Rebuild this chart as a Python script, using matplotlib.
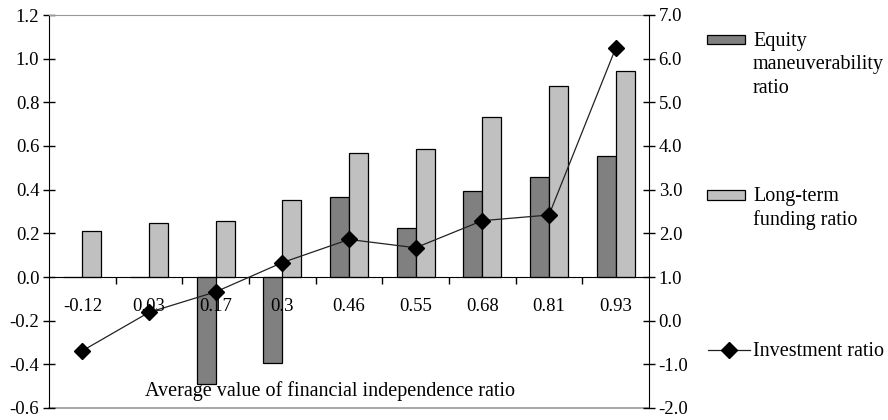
import numpy as np
import matplotlib
matplotlib.use("Agg")
import matplotlib.pyplot as plt
from matplotlib.patches import Rectangle
from matplotlib.lines import Line2D

plt.rcParams["font.family"] = ["Liberation Serif", "DejaVu Serif"]
plt.rcParams["font.size"] = 13.5

categories = ["-0.12", "0.03", "0.17", "0.3", "0.46", "0.55", "0.68", "0.81", "0.93"]
equity_ratio = [0.0, 0.0, -0.49, -0.395, 0.368, 0.223, 0.394, 0.457, 0.552]
longterm_ratio = [0.21, 0.246, 0.258, 0.353, 0.567, 0.586, 0.733, 0.873, 0.945]
investment_ratio = [-0.69, 0.19, 0.66, 1.33, 1.86, 1.67, 2.29, 2.42, 6.24]

dark = "#808080"
light = "#c0c0c0"
W, H = 888, 420

fig = plt.figure(figsize=(W / 100, H / 100), dpi=100)
ax = fig.add_axes([49 / W, 12 / H, 600 / W, 393 / H])
ax2 = ax.twinx()

x = np.arange(len(categories))
w = 0.286
ax.bar(x - w / 2, equity_ratio, w, color=dark, edgecolor="black", linewidth=0.9, zorder=2)
ax.bar(x + w / 2, longterm_ratio, w, color=light, edgecolor="black", linewidth=0.9, zorder=2)

ax.set_xlim(-0.5, len(categories) - 0.5)
ax.set_ylim(-0.6, 1.2)
left_ticks = np.arange(-0.6, 1.21, 0.2)
ax.set_yticks(left_ticks)
ax.set_yticklabels([f"{v:.1f}" for v in left_ticks])

# category axis sits on the zero line, ticks between categories
ax.spines["bottom"].set_position(("data", 0))
ax.set_xticks(x[:-1] + 0.5)
ax.set_xticklabels([])
ax.tick_params(axis="x", direction="out", length=5, width=1, color="black")
ax.tick_params(axis="y", direction="inout", length=8, width=1, pad=3)
for i, lab in enumerate(categories):
    ax.text(i, -0.135, lab, ha="center", va="center", fontsize=13.5)
ax.text((329.5 - 49) / 600 * 9 - 0.5, -0.523,
        "Average value of financial independence ratio",
        ha="center", va="center", fontsize=14.5)

ax.spines["top"].set_color("#999999")
ax.spines["left"].set_color("black")
ax.spines["bottom"].set_color("black")
ax.spines["right"].set_visible(False)
# lower frame edge
ax.axhline(-0.6, color="#999999", linewidth=1.2, clip_on=False, zorder=1)

ax2.plot(x, investment_ratio, color="#222222", linewidth=0.9, marker="D",
         markersize=8.5, markerfacecolor="black", markeredgecolor="black", zorder=3)
ax2.set_ylim(-2.0, 7.0)
right_ticks = np.arange(-2.0, 7.01, 1.0)
ax2.set_yticks(right_ticks)
ax2.set_yticklabels([f"{v:.1f}" for v in right_ticks])
ax2.tick_params(axis="y", direction="inout", length=8, width=1, pad=3)
for s in ["top", "left", "bottom"]:
    ax2.spines[s].set_visible(False)
ax2.spines["right"].set_color("black")

# legend drawn at the right of the plot area
fig.patches.append(Rectangle((707 / W, 1 - 44 / H), 38 / W, 9 / H, transform=fig.transFigure,
                             facecolor=dark, edgecolor="black", linewidth=0.9))
fig.text(753 / W, 1 - 32 / H, "Equity\nmaneuverability\nratio", ha="left", va="top",
         fontsize=14.5, linespacing=1.32, transform=fig.transFigure)
fig.patches.append(Rectangle((707 / W, 1 - 200 / H), 38 / W, 10 / H, transform=fig.transFigure,
                             facecolor=light, edgecolor="black", linewidth=0.9))
fig.text(753 / W, 1 - 187 / H, "Long-term\nfunding ratio", ha="left", va="top",
         fontsize=14.5, linespacing=1.3, transform=fig.transFigure)
fig.lines.append(Line2D([708 / W, 750 / W], [1 - 350 / H, 1 - 350 / H], transform=fig.transFigure,
                        color="#222222", linewidth=0.9))
fig.lines.append(Line2D([729 / W], [1 - 350 / H], transform=fig.transFigure, marker="D",
                        markersize=8.5, color="black"))
fig.text(753 / W, 1 - 351 / H, "Investment ratio", ha="left", va="center", fontsize=14.5,
         transform=fig.transFigure)

fig.savefig("out.png", dpi=100)
